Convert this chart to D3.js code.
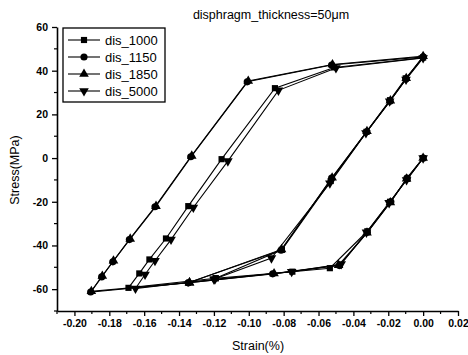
<!DOCTYPE html>
<html>
<head>
<meta charset="utf-8">
<script src="https://cdn.jsdelivr.net/npm/d3@7"></script>
<style>
  body { margin: 0; background: #fff; }
  svg text { font-family: "Liberation Sans", Arial, sans-serif; fill: #000; }
</style>
</head>
<body>
<svg id="chart" width="468" height="355"></svg>
<script>
// series names / markers
const seriesNames = ["dis_1000", "dis_1150", "dis_1850", "dis_5000"];
const markerTypes = [d3.symbolSquare, d3.symbolCircle, d3.symbolTriangle, "down"];

// Strain (%) values
const strain1000 = [0, -0.009, -0.019, -0.032, -0.0535, -0.075, -0.119, -0.169, -0.1628, -0.157, -0.1475, -0.1347, -0.1156, -0.085, -0.051, 0, -0.010, -0.019, -0.0325, -0.053, -0.081, -0.119];
const stress1000 = [0, -9.5, -20, -33.5, -50.4, -52, -55, -59.4, -52.8, -46.4, -36.8, -22, -0.5, 32, 41.5, 46, 36.5, 26.5, 12, -10.5, -42, -55];

const strain1150 = [0, -0.0093, -0.0185, -0.032, -0.048, -0.0863, -0.1347, -0.1907, -0.1844, -0.178, -0.1685, -0.1538, -0.1333, -0.1009, -0.0525, 0, -0.0099, -0.019, -0.0324, -0.0525, -0.0815, -0.1347];
const stress1150 = [0, -9.2, -20, -34, -49.2, -53, -57.1, -61.3, -54.4, -47.5, -37.3, -22.3, 0.6, 34.9, 42.6, 46.3, 36.2, 26, 12, -9.2, -42.2, -57.1];

const strain1850 = [0, -0.0095, -0.0188, -0.0322, -0.0485, -0.0855, -0.134, -0.1903, -0.184, -0.1776, -0.168, -0.1532, -0.1327, -0.1003, -0.052, 0, -0.0097, -0.0188, -0.0322, -0.0522, -0.0812, -0.134];
const stress1850 = [0, -9.5, -20.3, -34.2, -49, -52.8, -57, -61, -54, -47, -37, -22, 1, 35.3, 42.8, 46.6, 36.5, 26.3, 12.3, -9, -41.8, -57];

const strain5000 = [0, -0.0095, -0.0195, -0.0325, -0.047, -0.0754, -0.1194, -0.165, -0.1595, -0.1538, -0.1446, -0.1318, -0.112, -0.083, -0.050, 0, -0.0098, -0.0192, -0.0328, -0.0535, -0.087, -0.120];
const stress5000 = [0, -10, -20.5, -34, -48.5, -52, -55.5, -59.7, -53.3, -47, -37.3, -22.6, -1.4, 31, 41.2, 45.8, 36, 26, 11.5, -11.5, -45.8, -55.5];

const strains = [strain1000, strain1150, strain1850, strain5000];
const stresses = [stress1000, stress1150, stress1850, stress5000];

// tick values
const xTicks = [-0.20, -0.18, -0.16, -0.14, -0.12, -0.10, -0.08, -0.06, -0.04, -0.02, 0.00, 0.02];
const yTicks = [-60, -40, -20, 0, 20, 40, 60];

const svg = d3.select("#chart");

const x = d3.scaleLinear().domain([-0.21, 0.02]).range([57, 458]);
const y = d3.scaleLinear().domain([-70, 60]).range([311, 27]);

// minor ticks
const xMinor = d3.range(-0.21, 0.0201, 0.01).filter(v => !xTicks.some(t => Math.abs(t - v) < 1e-6));
const yMinor = d3.range(-70, 61, 10).filter(v => !yTicks.includes(v));

const gx = svg.append("g").attr("transform", "translate(0,311)");
gx.call(d3.axisBottom(x).tickValues(xTicks).tickFormat(d3.format(".2f")).tickSize(5).tickSizeOuter(0).tickPadding(4));
gx.selectAll(".tick line").attr("stroke-width", 1.3);
gx.selectAll(".tick text").attr("font-size", 10.5).attr("font-weight", "bold").text(d => d3.format(".2f")(d).replace("−", "-"));
gx.select(".domain").attr("stroke-width", 1.6);
gx.selectAll(".minor").data(xMinor).enter().append("line")
  .attr("x1", d => x(d)).attr("x2", d => x(d)).attr("y1", 0).attr("y2", 3)
  .attr("stroke", "#000").attr("stroke-width", 1.2);

const gy = svg.append("g").attr("transform", "translate(57,0)");
gy.call(d3.axisLeft(y).tickValues(yTicks).tickSize(5).tickSizeOuter(0).tickPadding(4));
gy.selectAll(".tick line").attr("stroke-width", 1.3);
gy.selectAll(".tick text").attr("font-size", 10.5).attr("font-weight", "bold").text(d => String(d));
gy.select(".domain").attr("stroke-width", 1.6);
gy.selectAll(".minor").data(yMinor).enter().append("line")
  .attr("x1", 0).attr("x2", -3).attr("y1", d => y(d)).attr("y2", d => y(d))
  .attr("stroke", "#000").attr("stroke-width", 1.2);

// lines and markers
const line = d3.line().x(d => x(d[0])).y(d => y(d[1]));

function markerPath(type) {
  if (type === "down") return d3.symbol().type(d3.symbolTriangle).size(40)();
  return d3.symbol().type(type).size(type === d3.symbolSquare ? 38 : 40)();
}

seriesNames.forEach((name, i) => {
  const pts = strains[i].map((s, j) => [s, stresses[i][j]]);
  svg.append("path")
    .datum(pts)
    .attr("d", line)
    .attr("fill", "none")
    .attr("stroke", "#000")
    .attr("stroke-width", 1.1);
  svg.append("g").selectAll("path").data(pts).enter().append("path")
    .attr("d", markerPath(markerTypes[i]))
    .attr("transform", d => `translate(${x(d[0])},${y(d[1])})` + (markerTypes[i] === "down" ? " rotate(180)" : ""))
    .attr("fill", "#000");
});

// legend
const lg = svg.append("g");
lg.append("rect").attr("x", 63).attr("y", 28).attr("width", 102).attr("height", 74)
  .attr("fill", "#fff").attr("stroke", "#000").attr("stroke-width", 1.3);
seriesNames.forEach((name, i) => {
  const ly = 40 + i * 17;
  lg.append("line").attr("x1", 68).attr("x2", 100).attr("y1", ly).attr("y2", ly)
    .attr("stroke", "#000").attr("stroke-width", 1.1);
  lg.append("path").attr("d", markerPath(markerTypes[i]))
    .attr("transform", `translate(84,${ly})` + (markerTypes[i] === "down" ? " rotate(180)" : ""))
    .attr("fill", "#000");
  lg.append("text").attr("x", 105).attr("y", ly + 4.5).attr("font-size", 13).text(name);
});

// title and axis labels
svg.append("text").attr("x", 271).attr("y", 19).attr("text-anchor", "middle")
  .attr("font-size", 12.5).text("disphragm_thickness=50μm");
svg.append("text").attr("x", 258).attr("y", 350).attr("text-anchor", "middle")
  .attr("font-size", 12.5).text("Strain(%)");
svg.append("text").attr("transform", "translate(19,170) rotate(-90)").attr("text-anchor", "middle")
  .attr("font-size", 12.5).text("Stress(MPa)");
</script>
</body>
</html>
